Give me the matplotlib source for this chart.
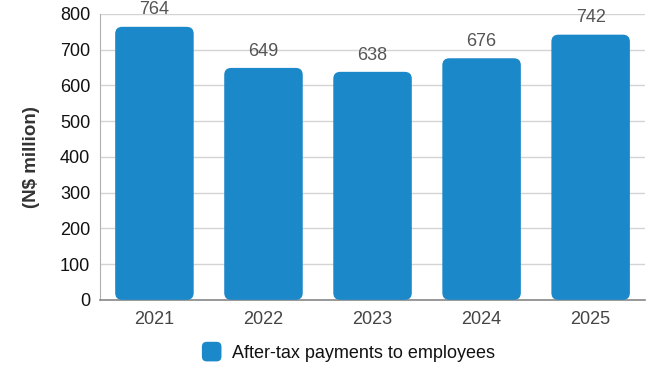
import matplotlib.pyplot as plt
from matplotlib.patches import FancyBboxPatch
from matplotlib.legend_handler import HandlerPatch

plt.rcParams['font.family'] = ['Liberation Sans', 'DejaVu Sans']

years = ['2021', '2022', '2023', '2024', '2025']
payments = [764, 649, 638, 676, 742]
bar_color = '#1b88c9'

fig = plt.figure(figsize=(6.53, 3.67), dpi=100)
ax = fig.add_axes([0.153, 0.183, 0.835, 0.779])
ax.set_xlim(-0.5, 4.5)
ax.set_ylim(0, 800)

# pixels per data unit, used to keep the rounded corners circular
px_x = 0.835 * 653 / 5.0
px_y = 0.779 * 367 / 800.0
aspect = px_x / px_y
width = 0.72
radius = 7 / px_x

for i, v in enumerate(payments):
    patch = FancyBboxPatch((i - width / 2, 0), width, v,
                           boxstyle=f'round,pad=0,rounding_size={radius}',
                           mutation_aspect=aspect, facecolor=bar_color,
                           edgecolor='none', zorder=3)
    ax.add_patch(patch)
    ax.annotate(str(v), (i, v), xytext=(0, 6), textcoords='offset points',
                ha='center', va='bottom', fontsize=13, color='#555555')

ax.set_xticks(range(len(years)))
ax.set_xticklabels(years)
ax.set_yticks(range(0, 801, 100))
ax.tick_params(axis='x', length=0, pad=8, labelsize=13, labelcolor='#444444')
ax.tick_params(axis='y', length=0, pad=7, labelsize=13, labelcolor='#111111')
ax.grid(axis='y', color='#d4d4d4', linewidth=1, zorder=0)
for s in ['top', 'right']:
    ax.spines[s].set_visible(False)
ax.spines['left'].set_color('#b0b0b0')
ax.spines['bottom'].set_color('#888888')
ax.spines['bottom'].set_linewidth(1.2)

ax.set_ylabel('(N$ million)', fontsize=13.5, fontweight='bold', color='#333333', labelpad=14)


class RoundHandler(HandlerPatch):
    def create_artists(self, legend, orig_handle, xdescent, ydescent,
                       width, height, fontsize, trans):
        s = height * 1.55
        p = FancyBboxPatch((width - s - xdescent, -ydescent - (s - height) / 2), s, s,
                           boxstyle=f'round,pad=0,rounding_size={s * 0.25}',
                           facecolor=bar_color, edgecolor='none', transform=trans)
        return [p]


handle = FancyBboxPatch((0, 0), 1, 1, facecolor=bar_color)
fig.legend([handle], ['After-tax payments to employees'],
           handler_map={FancyBboxPatch: RoundHandler()},
           loc='center', bbox_to_anchor=(0.535, 0.037), frameon=False,
           fontsize=13, handlelength=1.0, handletextpad=0.6,
           labelcolor='#111111')

fig.savefig('out.png', dpi=100)
